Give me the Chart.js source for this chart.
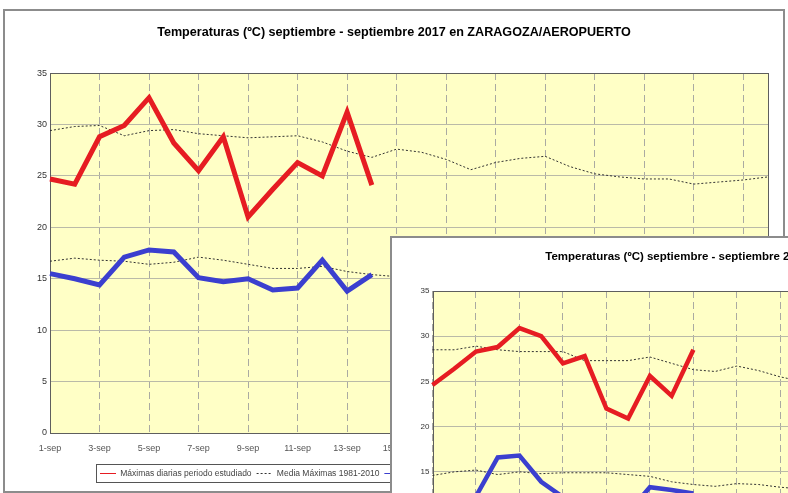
<!DOCTYPE html>
<html>
<head>
<meta charset="utf-8">
<script src="https://cdn.jsdelivr.net/npm/chart.js@4.4.1/dist/chart.umd.min.js"></script>
<style>
  html, body { margin: 0; padding: 0; background: #fff; width: 788px; height: 493px; overflow: hidden; }
  #marco1 { position: absolute; left: 3px; top: 9px; width: 778px; height: 480px; border: 2px solid #8c8c8c; }
  #c1 { position: absolute; left: 0; top: 0; z-index: 1; }
  #marco2 { position: absolute; left: 390px; top: 236px; width: 760px; height: 440px; border: 2px solid #8c8c8c; background: #fff; z-index: 2; }
  #c2 { position: absolute; left: 0; top: 0; }
</style>
</head>
<body>
<div id="marco1"></div>
<canvas id="c1" width="788" height="493"></canvas>
<div id="marco2"><canvas id="c2" width="742" height="425"></canvas></div>
<script>
// eje x comun
const dias = ['1-sep', '2-sep', '3-sep', '4-sep', '5-sep', '6-sep', '7-sep', '8-sep', '9-sep', '10-sep',
  '11-sep', '12-sep', '13-sep', '14-sep', '15-sep', '16-sep', '17-sep', '18-sep', '19-sep', '20-sep',
  '21-sep', '22-sep', '23-sep', '24-sep', '25-sep', '26-sep', '27-sep', '28-sep', '29-sep', '30-sep'];
const series = ['Máximas diarias periodo estudiado', 'Media Máximas 1981-2010',
  'Mínimas diarias periodo estudiado', 'Media Mínimas 1981-2010'];

// grafico de atras (2017)
const titulo1 = 'Temperaturas (ºC) septiembre - septiembre 2017 en ZARAGOZA/AEROPUERTO';
const max1 = [24.7, 24.2, 28.8, 29.9, 32.6, 28.2, 25.5, 28.8, 21.0, 23.7, 26.3, 25.0, 31.2, 24.1];
const mediaMax1 = [29.4, 29.8, 29.9, 28.9, 29.4, 29.5, 29.1, 28.9, 28.7, 28.8, 28.9, 28.3, 27.4, 26.8, 27.6,
  27.3, 26.6, 25.6, 26.3, 26.7, 26.9, 25.9, 25.2, 24.9, 24.7, 24.7, 24.2, 24.4, 24.6, 24.9];
const min1 = [15.5, 15.0, 14.4, 17.1, 17.8, 17.6, 15.1, 14.7, 15.0, 13.9, 14.1, 16.8, 13.8, 15.4];
const mediaMin1 = [16.7, 17.0, 16.8, 16.7, 16.4, 16.6, 17.1, 16.8, 16.4, 16.0, 16.0, 16.2, 15.7, 15.4, 15.2];

// grafico de delante
const titulo2 = 'Temperaturas (ºC) septiembre - septiembre 2016 en ZARAGOZA/AEROPUERTO';
const max2 = [24.6, 26.4, 28.3, 28.8, 30.9, 30.0, 27.0, 27.8, 22.0, 20.9, 25.6, 23.4, 28.5];
const mediaMax2 = [28.5, 28.5, 28.9, 28.5, 28.3, 28.3, 28.3, 27.3, 27.3, 27.3, 27.7, 27.0, 26.3, 26.1, 26.7,
  26.2, 25.5, 25.0];
const min2 = [11.5, 11.8, 12.3, 16.6, 16.8, 13.9, 12.2, 11.6, 11.2, 10.5, 13.3, 13.0, 12.6];
const mediaMin2 = [14.6, 15.0, 15.2, 14.7, 15.0, 14.8, 14.9, 14.9, 14.9, 14.7, 14.5, 13.9, 13.6, 13.4, 13.7,
  13.6, 13.3, 13.1];

const rojo = '#e61c22';
const azul = '#3b3fcf';

Chart.defaults.font.family = 'Arial, "Liberation Sans", sans-serif';

const fondo = {
  id: 'fondo',
  beforeDraw(chart, args, opts) {
    const a = chart.chartArea, ctx = chart.ctx;
    ctx.save();
    ctx.fillStyle = opts.color;
    ctx.fillRect(a.left, a.top, a.right - a.left, a.bottom - a.top);
    ctx.restore();
  },
  beforeDatasetsDraw(chart, args, opts) {
    const a = chart.chartArea, ctx = chart.ctx;
    ctx.save();
    ctx.strokeStyle = opts.border;
    ctx.lineWidth = 1;
    ctx.strokeRect(Math.round(a.left) + 0.5, Math.round(a.top) + 0.5,
      Math.round(a.right - a.left), Math.round(a.bottom - a.top));
    ctx.restore();
  }
};

// recoloca titulo y leyenda, y dibuja el recuadro de la leyenda
const ajustes = {
  id: 'ajustes',
  afterLayout(chart, args, opts) {
    const lg = chart.legend;
    const w = lg.right - lg.left;
    lg.left = opts.leyendaX - lg.options.labels.padding;
    lg.right = lg.left + w;
    const t = chart.titleBlock;
    t.left += opts.tituloDx;
    t.right += opts.tituloDx;
  },
  afterDraw(chart, args, opts) {
    const lg = chart.legend, hb = lg.legendHitBoxes;
    if (!hb || !hb.length) return;
    const last = hb[hb.length - 1];
    const x0 = Math.round(hb[0].left) - 3.5;
    const x1 = Math.round(last.left + last.width) + 4.5;
    const y0 = Math.round(lg.top) + 0.5;
    const ctx = chart.ctx;
    ctx.save();
    ctx.strokeStyle = '#555';
    ctx.lineWidth = 1;
    ctx.strokeRect(x0, y0, x1 - x0, opts.alto);
    ctx.restore();
  }
};

function grafico(id, p) {
  return new Chart(document.getElementById(id), {
    type: 'line',
    data: {
      labels: dias,
      datasets: [
        { label: series[0], data: p.max, borderColor: rojo, backgroundColor: rojo, borderWidth: p.grosor },
        { label: series[1], data: p.mediaMax, borderColor: '#333', backgroundColor: '#333', borderWidth: 1, borderDash: [2, 2] },
        { label: series[2], data: p.min, borderColor: azul, backgroundColor: azul, borderWidth: p.grosor },
        { label: series[3], data: p.mediaMin, borderColor: '#333', backgroundColor: '#333', borderWidth: 1, borderDash: [2, 2] }
      ]
    },
    options: {
      responsive: false,
      animation: false,
      elements: { point: { radius: 0 }, line: { tension: 0, fill: false } },
      layout: { padding: { left: 0, right: p.padDer, top: 0, bottom: p.padInf } },
      plugins: {
        title: {
          display: true, text: p.titulo, color: '#000',
          font: { size: p.tTitulo, weight: 'bold' },
          padding: { top: p.tituloSup, bottom: p.tituloInf }
        },
        legend: {
          position: 'bottom', align: 'start',
          labels: {
            color: '#444', font: { size: p.tLeyenda }, padding: 5,
            usePointStyle: true, pointStyleWidth: 16, boxWidth: 16,
            generateLabels: chart => chart.data.datasets.map((d, i) => ({
              text: d.label, datasetIndex: i, pointStyle: 'line', lineWidth: 1,
              strokeStyle: d.borderColor, fillStyle: d.borderColor,
              lineDash: d.borderDash || [], fontColor: '#444', hidden: false
            }))
          }
        },
        tooltip: { enabled: false },
        fondo: { color: '#ffffc6', border: '#5e5e5e' },
        ajustes: { leyendaX: p.leyendaX, alto: p.leyendaAlto, tituloDx: p.tituloDx }
      },
      scales: {
        x: {
          grid: { color: c => c.index % 2 === 0 ? '#aaaaa2' : 'rgba(0,0,0,0)', drawTicks: false },
          border: { display: false, dash: [7, 4] },
          ticks: {
            autoSkip: false, maxRotation: 0, color: '#555', padding: p.padX,
            font: { size: p.tLetra },
            callback: (v, i) => i % 2 === 0 ? dias[i] : ''
          },
          afterFit: s => { s.height = p.altoX; }
        },
        y: {
          min: 0, max: 35,
          grid: { color: '#babaa8', drawTicks: false },
          border: { display: false },
          ticks: { stepSize: 5, color: '#333', padding: 3, font: { size: p.tLetra } },
          afterFit: s => { s.width = p.anchoY; }
        }
      }
    },
    plugins: [fondo, ajustes]
  });
}

grafico('c1', {
  titulo: titulo1, max: max1, mediaMax: mediaMax1, min: min1, mediaMin: mediaMin1,
  grosor: 5, tTitulo: 12.6, tituloSup: 25.4, tituloInf: 32.5, tituloDx: 10, tLetra: 9, tLeyenda: 8.5,
  padDer: 20, padInf: 5.25, anchoY: 50, altoX: 31.25, padX: 10,
  leyendaX: 100, leyendaAlto: 18
});

grafico('c2', {
  titulo: titulo2, max: max2, mediaMax: mediaMax2, min: min2, mediaMin: mediaMin2,
  grosor: 4.5, tTitulo: 11.5, tituloSup: 11.8, tituloInf: 27.4, tituloDx: 34, tLetra: 8, tLeyenda: 7.5,
  padDer: 71, padInf: 5, anchoY: 40.5, altoX: 28, padX: 9,
  leyendaX: 85, leyendaAlto: 16
});
</script>
</body>
</html>
